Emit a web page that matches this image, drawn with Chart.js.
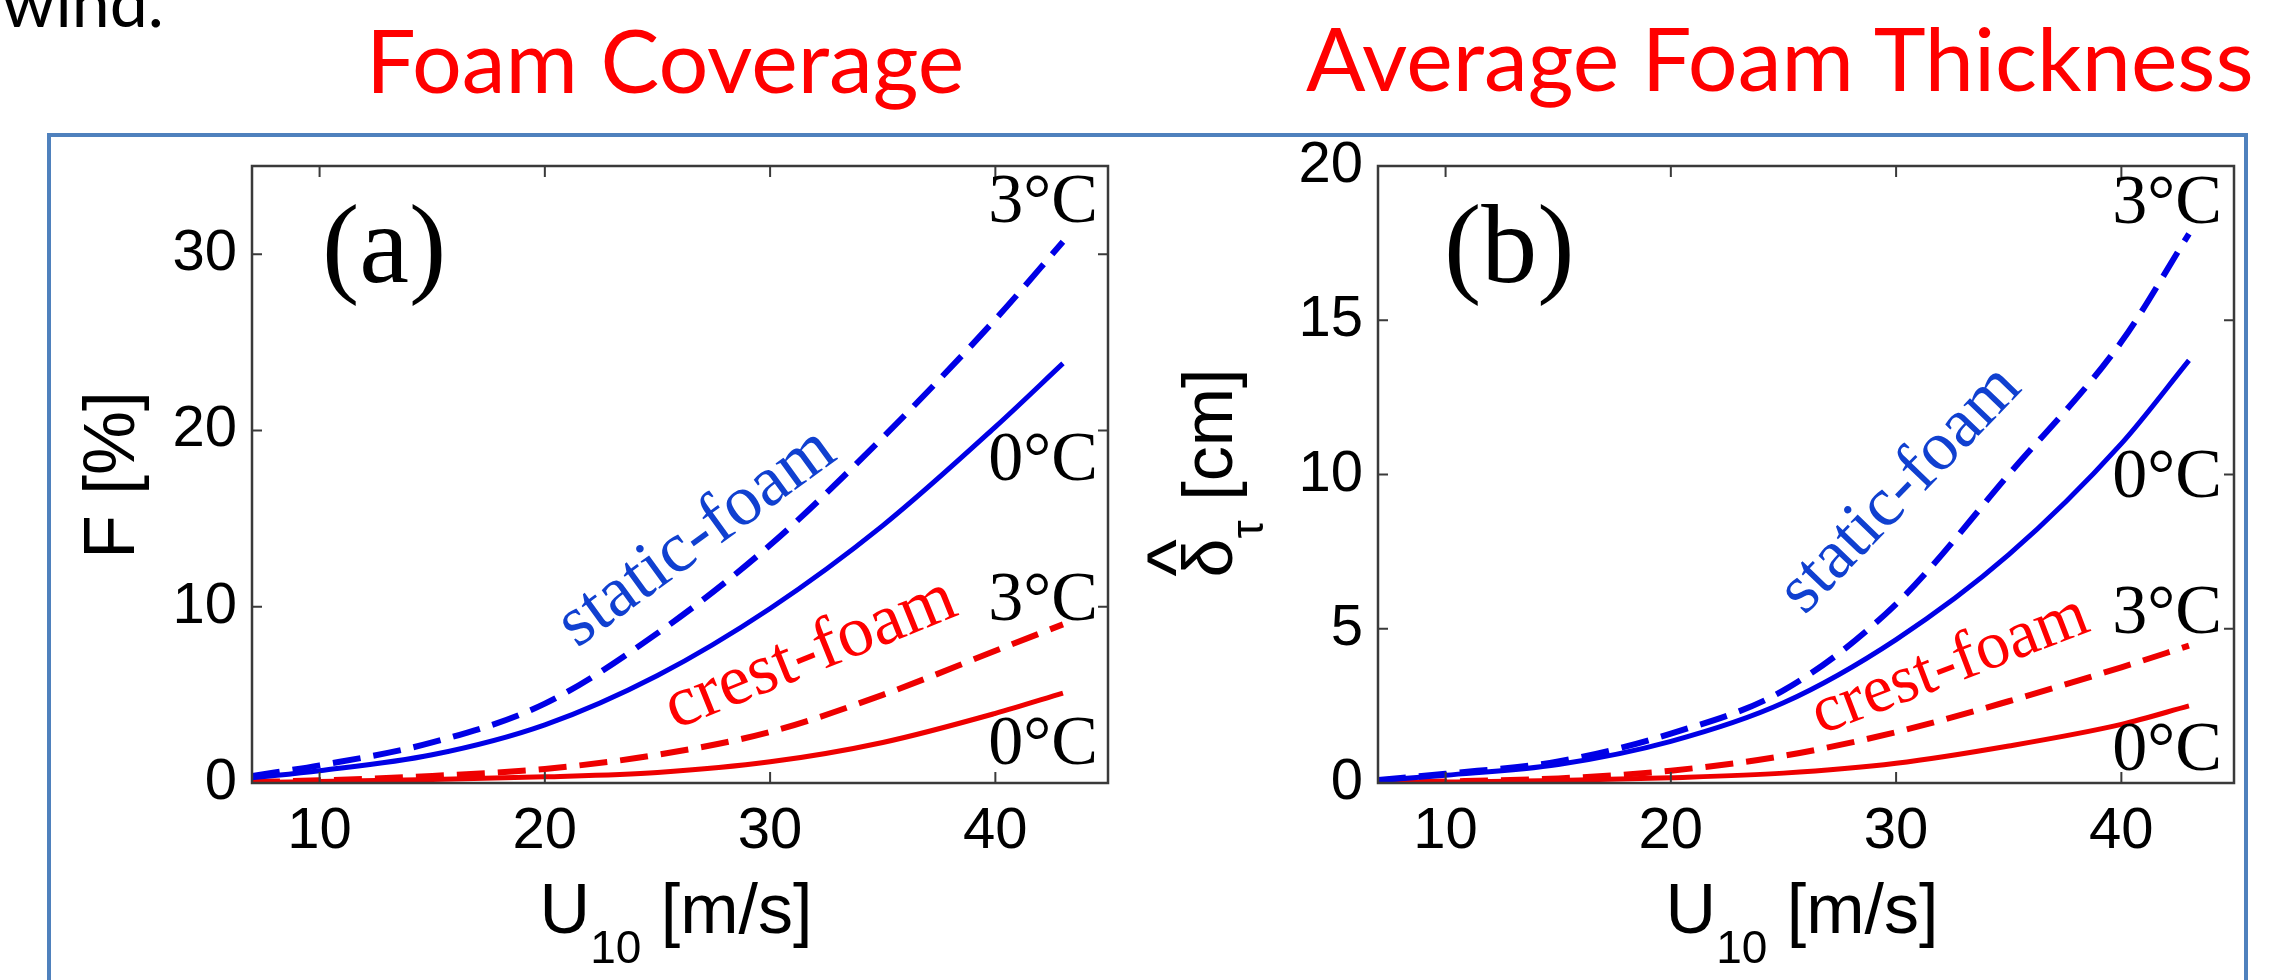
<!DOCTYPE html>
<html>
<head>
<meta charset="utf-8">
<script src="https://cdn.jsdelivr.net/npm/chart.js@4.4.1/dist/chart.umd.min.js"></script>
<style>
  html, body { margin: 0; padding: 0; background: #fff; overflow: hidden; }
  body { width: 2269px; height: 980px; position: relative; }
  .frame { position: absolute; left: 47px; top: 133px; width: 2193px; height: 900px; border: 4px solid #4f81bd; }
  .txt { position: absolute; font-family: Lato, "Open Sans", sans-serif; font-size: 88px; line-height: 88px; white-space: nowrap; }
  .title { color: #ff0000; }
  canvas { position: absolute; top: 0; }
</style>
</head>
<body>
<div class="txt" style="left:2px; top:-33px; color:#000; font-size:68px; line-height:68px;">wind.</div>
<div class="txt title" style="left:366px; top:15px;">Foam Coverage</div>
<div class="txt title" style="left:1306px; top:13px;">Average Foam Thickness</div>
<div class="frame"></div>
<canvas id="chartA" width="1130" height="980" style="left:0"></canvas>
<canvas id="chartB" width="1139" height="980" style="left:1130px"></canvas>
<script>
// wind speed U10 [m/s] at which the curves were read
const windSpeed = [7, 10, 15, 20, 25, 30, 35, 40, 43];

// (a) foam coverage F [%]
const coverStatic3 = [0.4, 1.0, 2.3, 4.5, 8.5, 13.5, 19.6, 26.3, 30.7];
const coverStatic0 = [0.3, 0.7, 1.6, 3.3, 6.1, 9.9, 14.6, 20.2, 23.8];
const coverCrest3 = [0.05, 0.15, 0.4, 0.8, 1.6, 2.9, 5.0, 7.5, 9.0];
const coverCrest0 = [0.02, 0.08, 0.2, 0.35, 0.6, 1.2, 2.3, 3.95, 5.1];

// (b) average foam thickness [cm]
const thickStatic3 = [0.1, 0.3, 0.7, 1.6, 3.0, 5.8, 10.0, 14.3, 17.8];
const thickStatic0 = [0.08, 0.25, 0.6, 1.35, 2.6, 4.65, 7.4, 11.0, 13.7];
const thickCrest3 = [0.02, 0.05, 0.15, 0.4, 0.88, 1.65, 2.65, 3.75, 4.45];
const thickCrest0 = [0.01, 0.03, 0.08, 0.17, 0.32, 0.64, 1.2, 1.9, 2.5];

// tick labels
const xTickValues = [10, 20, 30, 40];
const coverTickValues = [0, 10, 20, 30];
const thickTickValues = [0, 5, 10, 15, 20];

const BLUE = '#0000e6';
const RED = '#ee0000';
const SANS = '"Liberation Sans", Arial, sans-serif';
const SERIF = '"Liberation Serif", "Times New Roman", serif';

function series(ys) {
    return windSpeed.map((x, i) => ({ x, y: ys[i] }));
}

function lineSet(label, ys, color, dashed) {
    return {
        label,
        data: series(ys),
        borderColor: color,
        backgroundColor: color,
        borderWidth: dashed ? 6 : 5,
        borderDash: dashed ? [28, 13] : [],
        pointRadius: 0,
        fill: false,
        cubicInterpolationMode: 'monotone',
    };
}

// text made of pieces, [text, size, baseline shift]
function partsWidth(ctx, parts) {
    return parts.reduce((w, [t, size]) => {
        ctx.font = `${size}px ${SANS}`;
        return w + ctx.measureText(t).width;
    }, 0);
}

function drawParts(ctx, parts, x0, y0) {
    let x = x0;
    parts.forEach(([t, size, dy]) => {
        ctx.font = `${size}px ${SANS}`;
        ctx.fillText(t, x, y0 + dy);
        x += ctx.measureText(t).width;
    });
}

function panelPlugin(p) {
    return {
        id: 'panel',
        afterDatasetsDraw(chart) {
            const { ctx, chartArea: a, scales: { x, y } } = chart;
            ctx.save();

            // axes box with inward ticks
            ctx.strokeStyle = '#3a3a3a';
            ctx.lineWidth = 2.5;
            ctx.strokeRect(a.left, a.top, a.width, a.height);
            ctx.lineWidth = 2;
            ctx.beginPath();
            xTickValues.forEach(v => {
                const px = x.getPixelForValue(v);
                ctx.moveTo(px, a.bottom); ctx.lineTo(px, a.bottom - 11);
                ctx.moveTo(px, a.top); ctx.lineTo(px, a.top + 11);
            });
            p.yTicks.forEach(v => {
                const py = y.getPixelForValue(v);
                ctx.moveTo(a.left, py); ctx.lineTo(a.left + 10, py);
                ctx.moveTo(a.right, py); ctx.lineTo(a.right - 10, py);
            });
            ctx.stroke();

            ctx.fillStyle = '#000';
            ctx.textBaseline = 'alphabetic';
            ctx.textAlign = 'left';
            ctx.font = `112px ${SERIF}`;
            ctx.fillText(p.letter, a.left + p.letterPos[0], a.top + p.letterPos[1]);

            ctx.font = `70px ${SERIF}`;
            ctx.textAlign = 'right';
            p.temps.forEach(([t, v]) => ctx.fillText(t, a.right - p.tempInset, y.getPixelForValue(v)));

            p.curves.forEach(c => {
                ctx.save();
                ctx.translate(x.getPixelForValue(c.x), y.getPixelForValue(c.y));
                ctx.rotate(c.angle * Math.PI / 180);
                ctx.font = `${c.size}px ${SERIF}`;
                ctx.fillStyle = c.color;
                ctx.textAlign = 'center';
                ctx.textBaseline = 'middle';
                ctx.fillText(c.text, 0, 0);
                ctx.restore();
            });

            // axis titles
            ctx.fillStyle = '#000';
            ctx.textAlign = 'left';
            ctx.textBaseline = 'alphabetic';
            const xParts = [['U', 70, 0], ['10', 46, 30], [' [m/s]', 70, 0]];
            const cx = (a.left + a.right) / 2;
            drawParts(ctx, xParts, cx - partsWidth(ctx, xParts) / 2 - 4, p.xTitleBase);

            ctx.save();
            ctx.translate(p.yTitleBase, p.yTitleCenter);
            ctx.rotate(-Math.PI / 2);
            const w = partsWidth(ctx, p.yParts);
            drawParts(ctx, p.yParts, -w / 2, 0);
            if (p.hat) {
                ctx.font = `70px ${SANS}`;
                const dw = ctx.measureText(p.yParts[0][0]).width;
                ctx.font = `80px ${SANS}`;
                ctx.textAlign = 'center';
                ctx.fillText('^', -w / 2 + dw / 2, -30);
            }
            ctx.restore();

            ctx.restore();
        }
    };
}

function makeChart(id, p) {
    const tickFont = { family: SANS, size: 58 };
    return new Chart(document.getElementById(id), {
        type: 'line',
        data: { datasets: p.datasets },
        options: {
            responsive: false,
            animation: false,
            layout: { padding: p.padding },
            plugins: { legend: { display: false }, tooltip: { enabled: false } },
            scales: {
                x: {
                    type: 'linear', min: 7, max: 45,
                    grid: { display: false, drawTicks: false },
                    border: { display: false },
                    afterFit: s => { s.height = p.xAxisHeight; },
                    afterBuildTicks: s => { s.ticks = xTickValues.map(value => ({ value })); },
                    ticks: { autoSkip: false, maxRotation: 0, padding: 14, color: '#000', font: tickFont },
                },
                y: {
                    type: 'linear', min: 0, max: p.yMax,
                    grid: { display: false, drawTicks: false },
                    border: { display: false },
                    afterFit: s => { s.width = p.yAxisWidth; },
                    afterBuildTicks: s => { s.ticks = p.yTicks.map(value => ({ value })); },
                    ticks: { padding: 15, color: '#000', font: tickFont },
                },
            },
        },
        plugins: [panelPlugin(p)],
    });
}

makeChart('chartA', {
    datasets: [
        lineSet('static-foam 3°C', coverStatic3, BLUE, true),
        lineSet('static-foam 0°C', coverStatic0, BLUE, false),
        lineSet('crest-foam 3°C', coverCrest3, RED, true),
        lineSet('crest-foam 0°C', coverCrest0, RED, false),
    ],
    padding: { top: 166, right: 22, left: 0, bottom: 0 },
    yAxisWidth: 252,
    xAxisHeight: 197,
    yMax: 35,
    yTicks: coverTickValues,
    letter: '(a)',
    letterPos: [70, 116],
    temps: [['3°C', 31.8], ['0°C', 17.2], ['3°C', 9.25], ['0°C', 1.08]],
    tempInset: 10,
    curves: [
        { text: 'static-foam', x: 26.75, y: 13.9, angle: -36, size: 72, color: '#1040d0' },
        { text: 'crest-foam', x: 31.8, y: 7.3, angle: -22, size: 72, color: '#ff0000' },
    ],
    xTitleBase: 933,
    yTitleBase: 134,
    yTitleCenter: 475,
    yParts: [['F [%]', 72, 0]],
    hat: false,
});

makeChart('chartB', {
    datasets: [
        lineSet('static-foam 3°C', thickStatic3, BLUE, true),
        lineSet('static-foam 0°C', thickStatic0, BLUE, false),
        lineSet('crest-foam 3°C', thickCrest3, RED, true),
        lineSet('crest-foam 0°C', thickCrest0, RED, false),
    ],
    padding: { top: 166, right: 35, left: 0, bottom: 0 },
    yAxisWidth: 248,
    xAxisHeight: 197,
    yMax: 20,
    yTicks: thickTickValues,
    letter: '(b)',
    letterPos: [66, 116],
    temps: [['3°C', 18.15], ['0°C', 9.27], ['3°C', 4.86], ['0°C', 0.42]],
    tempInset: 12,
    curves: [
        { text: 'static-foam', x: 30.2, y: 9.5, angle: -46, size: 70, color: '#1040d0' },
        { text: 'crest-foam', x: 32.4, y: 3.8, angle: -21, size: 68, color: '#ff0000' },
    ],
    xTitleBase: 933,
    yTitleBase: 102,
    yTitleCenter: 473,
    yParts: [['δ', 70, 0], ['τ', 46, 31], [' [cm]', 70, 0]],
    hat: true,
});
</script>
</body>
</html>
